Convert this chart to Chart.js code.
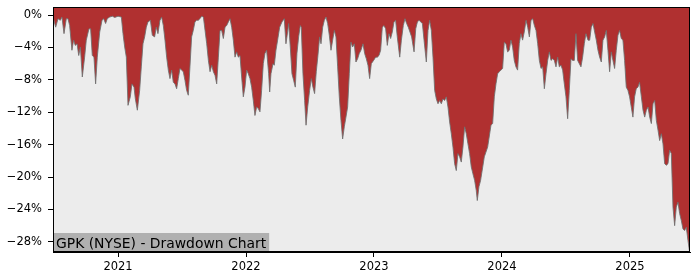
<!DOCTYPE html>
<html>
<head>
<meta charset="utf-8">
<title>GPK (NYSE) - Drawdown Chart</title>
<script src="https://cdn.jsdelivr.net/npm/chart.js"></script>
<style>
    body { margin: 0; background: #ffffff; }
    #wrap { width: 700px; height: 280px; }
</style>
</head>
<body>
<div id="wrap"><canvas id="drawdownChart" width="700" height="280"></canvas></div>
<script>
// Dates as decimal years, drawdown in percent
const dates = [
    2020.492, 2020.513, 2020.531, 2020.549, 2020.562, 2020.578, 2020.596, 2020.609, 2020.622, 2020.640,
    2020.653, 2020.666, 2020.680, 2020.693, 2020.706, 2020.721, 2020.739, 2020.752, 2020.773, 2020.786,
    2020.799, 2020.812, 2020.825, 2020.838, 2020.857, 2020.875, 2020.888, 2020.903, 2020.916, 2020.935,
    2020.956, 2020.974, 2021.000, 2021.026, 2021.039, 2021.052, 2021.065, 2021.078, 2021.096, 2021.109,
    2021.125, 2021.135, 2021.151, 2021.169, 2021.182, 2021.195, 2021.208, 2021.221, 2021.234, 2021.253,
    2021.268, 2021.286, 2021.299, 2021.312,
    2021.328, 2021.341, 2021.354, 2021.367, 2021.380, 2021.393, 2021.406, 2021.419, 2021.432, 2021.445,
    2021.458, 2021.471, 2021.484, 2021.497, 2021.510, 2021.523, 2021.536, 2021.549, 2021.562, 2021.575,
    2021.588, 2021.601, 2021.614, 2021.627, 2021.640, 2021.654, 2021.667, 2021.680, 2021.693, 2021.706,
    2021.719, 2021.732, 2021.745, 2021.758, 2021.771, 2021.784, 2021.797, 2021.810, 2021.823, 2021.836,
    2021.849, 2021.862, 2021.875, 2021.888, 2021.901, 2021.914, 2021.927, 2021.940, 2021.953, 2021.966,
    2021.979, 2021.992, 2022.005, 2022.018, 2022.031, 2022.044, 2022.057, 2022.070, 2022.083, 2022.096,
    2022.109, 2022.122, 2022.135, 2022.148, 2022.161,
    2022.177, 2022.185, 2022.195, 2022.211, 2022.221, 2022.234, 2022.247, 2022.263, 2022.281, 2022.299,
    2022.312, 2022.325, 2022.333, 2022.346, 2022.359, 2022.372, 2022.385, 2022.398, 2022.411, 2022.424,
    2022.432, 2022.445, 2022.458, 2022.469, 2022.482, 2022.497, 2022.510, 2022.523, 2022.536, 2022.549,
    2022.562, 2022.575, 2022.586, 2022.599, 2022.612, 2022.625, 2022.638, 2022.651, 2022.664, 2022.677,
    2022.690, 2022.703, 2022.716, 2022.729, 2022.742, 2022.755, 2022.768, 2022.781, 2022.794, 2022.807,
    2022.820, 2022.833, 2022.846, 2022.859, 2022.872, 2022.885, 2022.898, 2022.914, 2022.927, 2022.940,
    2022.953, 2022.966, 2022.979, 2022.997,
    2023.013, 2023.026, 2023.039, 2023.052, 2023.065, 2023.078, 2023.091, 2023.104, 2023.117, 2023.130,
    2023.143, 2023.156, 2023.169, 2023.182, 2023.201, 2023.214, 2023.229, 2023.242, 2023.255, 2023.268,
    2023.281, 2023.294, 2023.313, 2023.326, 2023.339, 2023.352, 2023.365, 2023.378, 2023.391, 2023.409,
    2023.422, 2023.435, 2023.448, 2023.461, 2023.474, 2023.487, 2023.500, 2023.513, 2023.526, 2023.539,
    2023.552, 2023.565, 2023.578, 2023.591, 2023.604, 2023.617, 2023.630, 2023.643, 2023.656, 2023.669,
    2023.682, 2023.695, 2023.708, 2023.721, 2023.734, 2023.747, 2023.760, 2023.773, 2023.786, 2023.799,
    2023.807, 2023.820, 2023.833,
    2023.862, 2023.888, 2023.914, 2023.927, 2023.940, 2023.953, 2023.966, 2023.979, 2023.992, 2024.005,
    2024.018, 2024.031, 2024.044, 2024.057, 2024.070, 2024.083, 2024.096, 2024.109, 2024.122, 2024.135,
    2024.148, 2024.161, 2024.174, 2024.188, 2024.201, 2024.214, 2024.227, 2024.240, 2024.253, 2024.266,
    2024.279, 2024.292, 2024.305, 2024.318, 2024.331, 2024.344, 2024.357, 2024.370, 2024.383, 2024.396,
    2024.409, 2024.422, 2024.435, 2024.448, 2024.461, 2024.474, 2024.487, 2024.500, 2024.513, 2024.526,
    2024.539, 2024.552, 2024.565, 2024.578, 2024.591, 2024.604, 2024.617, 2024.630, 2024.643, 2024.656,
    2024.672, 2024.685, 2024.698, 2024.711, 2024.724, 2024.737, 2024.750, 2024.763, 2024.776, 2024.789,
    2024.802, 2024.815, 2024.828, 2024.841, 2024.854, 2024.867, 2024.880, 2024.893, 2024.906, 2024.919,
    2024.932, 2024.945, 2024.958, 2024.971, 2024.984, 2024.997, 2025.010, 2025.023, 2025.036, 2025.049,
    2025.062, 2025.075, 2025.089, 2025.102, 2025.115, 2025.128, 2025.141, 2025.154, 2025.167, 2025.180,
    2025.193, 2025.206, 2025.219, 2025.232, 2025.245, 2025.258, 2025.271, 2025.284, 2025.297, 2025.310,
    2025.323, 2025.336, 2025.349, 2025.362, 2025.375, 2025.388, 2025.401, 2025.414, 2025.427, 2025.440,
    2025.453, 2025.464
];

const drawdown = [
    -0.25, -1.5, -0.45, -0.65, -0.25, -2.3, -0.45, -0.45, -1.3, -4.35,
    -3.1, -3.75, -3.55, -5.0, -3.95, -7.65, -5.2, -3.1, -1.7, -1.7,
    -5.0, -5.2, -8.5, -5.2, -2.1, -0.65, -0.45, -1.05, -0.45, -0.25,
    -0.15, -0.3, -0.15, -0.25, -2.3, -3.95, -5.2, -11.15, -10.1, -8.5,
    -8.9, -10.3, -11.75, -9.3, -6.4, -3.55, -2.7, -1.5, -0.85, -0.65,
    -2.5, -2.7, -1.5, -2.3,
    -0.65, -0.25, -1.3, -3.1, -5.2, -6.8, -7.85, -6.8, -8.3, -8.5,
    -9.1, -7.85, -6.6, -6.8, -7.0, -8.05, -9.3, -9.9, -6.4, -2.7,
    -1.9, -0.85, -0.65, -0.65, -0.45, -0.15, -0.25, -1.9, -3.55, -5.6,
    -7.0, -6.2, -7.0, -7.45, -8.5, -5.2, -1.9, -1.9, -2.9, -1.5,
    -1.3, -0.85, -0.45, -1.5, -3.1, -5.2, -4.55, -5.2, -5.0, -7.65,
    -10.1, -8.9, -6.8, -7.25, -7.85, -8.9, -10.55, -12.4, -11.35, -11.55,
    -11.95, -9.3, -6.0, -4.75, -4.35,
    -7.25, -9.5, -7.25, -6.0, -6.2, -4.35, -3.1, -1.5, -0.85, -0.45,
    -3.55, -2.1, -1.05, -3.95, -7.25, -8.05, -8.9, -4.75, -2.7, -1.3,
    -1.5, -7.25, -10.55, -13.6, -11.35, -9.3, -7.85, -8.9, -9.7, -7.0,
    -5.0, -2.7, -3.55, -1.5, -0.65, -0.25, -1.05, -2.5, -4.35, -3.1,
    -1.9, -2.7, -6.4, -10.1, -13.0, -15.3, -13.8, -12.6, -11.35, -7.25,
    -3.35, -3.95, -3.55, -5.8, -5.4, -4.75, -4.35, -3.55, -4.75, -5.4,
    -6.2, -7.85, -6.0, -5.6,
    -5.2, -5.2, -5.0, -4.35, -1.5, -1.3, -1.7, -3.75, -2.3, -2.9,
    -2.1, -0.85, -0.65, -2.7, -5.2, -3.1, -1.3, -0.45, -1.05, -1.5,
    -2.1, -2.7, -4.55, -1.7, -0.85, -0.65, -0.85, -1.05, -3.1, -5.8,
    -1.9, -0.65, -1.9, -5.2, -9.3, -10.35, -10.95, -10.55, -10.95, -10.35,
    -10.55, -10.1, -11.35, -13.2, -14.65, -16.3, -18.35, -19.2, -17.1, -17.5,
    -18.15, -16.3, -13.8, -14.65, -15.9, -17.1, -18.75, -19.6, -20.4, -21.65,
    -22.9, -21.2, -20.4,
    -17.5, -16.3, -13.6, -13.4, -10.1, -8.5, -7.25, -7.0, -6.8, -6.6,
    -3.35, -3.55, -4.55, -4.35, -3.1, -3.95, -5.6, -6.4, -6.8, -3.55,
    -2.3, -3.1, -2.1, -0.65, -1.5, -2.7, -0.65, -0.45, -1.3, -1.9,
    -3.55, -5.6, -6.6, -6.4, -9.1, -7.25, -5.6, -4.55, -5.6, -5.4,
    -5.6, -6.4, -5.2, -6.4, -6.2, -6.8, -8.5, -10.1, -12.8, -9.3,
    -5.4, -5.6, -5.6, -2.3, -5.6, -6.0, -6.4, -5.2, -3.55, -2.3,
    -3.1, -3.1, -1.5, -1.05, -2.1, -3.1, -4.35, -5.2, -5.8, -3.1,
    -2.7, -1.9, -4.35, -7.0, -4.55, -5.6, -6.6, -4.35, -2.5, -1.9,
    -2.9, -3.1, -5.6, -8.9, -9.3, -10.1, -11.35, -12.6, -10.1, -9.1,
    -8.9, -8.3, -10.1, -11.75, -12.6, -11.75, -11.35, -12.6, -13.4, -10.95,
    -10.55, -13.0, -14.2, -15.5, -14.65, -15.9, -18.35, -18.55, -18.35, -16.7,
    -17.1, -23.7, -26.0, -23.7, -23.1, -24.5, -25.35, -26.4, -26.6, -26.2,
    -27.8, -29.05
];

const xTicks = [2021, 2022, 2023, 2024, 2025];
const yTicks = [0, -4, -8, -12, -16, -20, -24, -28];
const chartTitle = 'GPK (NYSE) - Drawdown Chart';

// Light gray plot background
const plotBackground = {
    id: 'plotBackground',
    beforeDraw(chart) {
        const { ctx, chartArea: a } = chart;
        ctx.save();
        ctx.fillStyle = '#ececec';
        ctx.fillRect(a.left, a.top, a.right - a.left, a.bottom - a.top);
        ctx.restore();
    }
};

// Frame around the plot and the label in the lower left corner
const frameAndLabel = {
    id: 'frameAndLabel',
    afterDraw(chart) {
        const { ctx, chartArea: a } = chart;
        ctx.save();
        ctx.font = '13.9px "DejaVu Sans"';
        const w = ctx.measureText(chartTitle).width;
        ctx.fillStyle = '#b0b0b0';
        ctx.fillRect(a.left, a.bottom - 19, w + 6, 19);
        ctx.fillStyle = '#000';
        ctx.textBaseline = 'alphabetic';
        ctx.fillText(chartTitle, a.left + 3, a.bottom - 4);
        ctx.strokeStyle = '#000';
        ctx.lineWidth = 1;
        ctx.strokeRect(a.left + 0.5, a.top + 0.5, a.right - a.left - 1, a.bottom - a.top - 1);
        ctx.restore();
    }
};

function percentLabel(v) {
    return (v < 0 ? '\u2212' + Math.abs(v) : String(v)) + '%';
}

function initializeDrawdownChart() {
    const ctx = document.getElementById('drawdownChart');
    const points = dates.map((d, i) => ({ x: d, y: drawdown[i] }));

    new Chart(ctx, {
        type: 'line',
        data: {
            datasets: [{
                data: points,
                fill: 'end',
                backgroundColor: '#b03030',
                borderColor: 'rgba(110,110,110,0.85)',
                borderWidth: 1,
                pointRadius: 0,
                tension: 0
            }]
        },
        options: {
            responsive: false,
            animation: false,
            layout: { padding: { left: 0, top: 7, right: 10, bottom: 0 } },
            plugins: {
                legend: { display: false },
                tooltip: { enabled: false }
            },
            scales: {
                x: {
                    type: 'linear',
                    min: 2020.492,
                    max: 2025.469,
                    afterBuildTicks: s => { s.ticks = xTicks.map(v => ({ value: v })); },
                    afterFit: s => { s.height = 28; s.paddingLeft = 0; s.paddingRight = 0; },
                    grid: { drawOnChartArea: false, drawTicks: true, tickLength: 5, color: '#000' },
                    border: { display: true, color: '#000', width: 1 },
                    ticks: {
                        color: '#000',
                        padding: 3,
                        maxRotation: 0,
                        font: { family: 'DejaVu Sans', size: 11.5 },
                        callback: v => String(v)
                    }
                },
                y: {
                    min: -29.25,
                    max: 0.99,
                    afterBuildTicks: s => { s.ticks = yTicks.map(v => ({ value: v })); },
                    afterFit: s => { s.width = 53; s.paddingTop = 0; s.paddingBottom = 0; },
                    grid: { drawOnChartArea: false, drawTicks: true, tickLength: 5, color: '#000' },
                    border: { display: true, color: '#000', width: 1 },
                    ticks: {
                        color: '#000',
                        padding: 6,
                        font: { family: 'DejaVu Sans', size: 11.5 },
                        callback: v => percentLabel(v)
                    }
                }
            }
        },
        plugins: [plotBackground, frameAndLabel]
    });
}

document.addEventListener('DOMContentLoaded', function() {
    initializeDrawdownChart();
});
</script>
</body>
</html>
